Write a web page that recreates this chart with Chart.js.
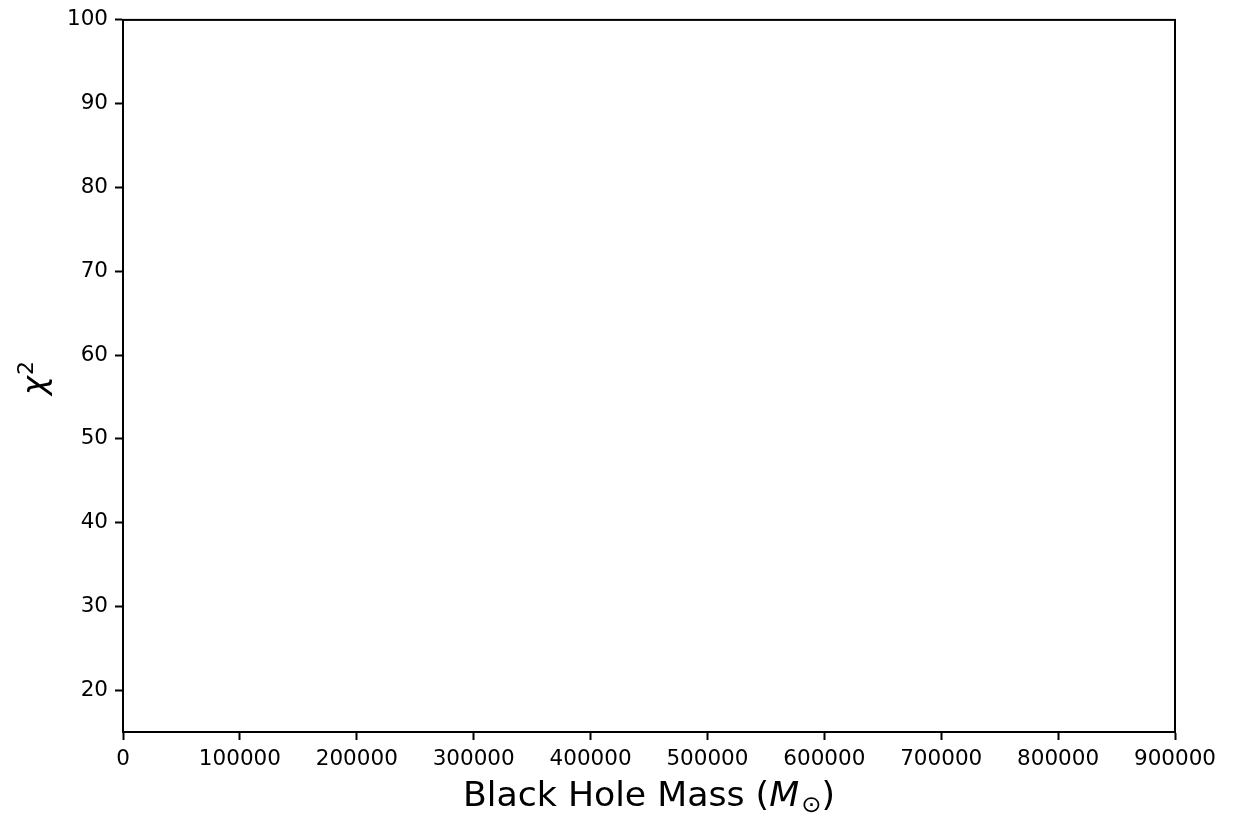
<!DOCTYPE html>
<html>
<head>
<meta charset="utf-8">
<script src="https://cdn.jsdelivr.net/npm/chart.js@4.4.1/dist/chart.umd.min.js"></script>
<style>
html,body{margin:0;padding:0;background:#fff;}
canvas{display:block;}
</style>
</head>
<body>
<canvas id="c" width="1238" height="816"></canvas>
<script>
// Data (the reference plot contains no plotted marks)
const blackHoleMass = [];
const chiSquared = [];
const xTickValues = [0, 100000, 200000, 300000, 400000, 500000, 600000, 700000, 800000, 900000];
const yTickValues = [20, 30, 40, 50, 60, 70, 80, 90, 100];
const xRange = [0, 900000];
const yRange = [15, 100];
const xTitleParts = ["Black Hole Mass (", "M", "\u2299", ")"];
const yTitleParts = ["\u03C7", "2"];

const FONT = "'DejaVu Sans', sans-serif";

const titlesPlugin = {
  id: 'titles',
  afterDraw(chart) {
    const ctx = chart.ctx;
    const a = chart.chartArea;
    ctx.save();
    // spines
    ctx.strokeStyle = '#000';
    ctx.lineWidth = 2;
    ctx.strokeRect(a.left, a.top, a.right - a.left, a.bottom - a.top);

    // x title
    const fs = 33;
    const fN = fs + "px " + FONT;
    const fI = "italic " + fs + "px " + FONT;
    const fS = Math.round(fs * 0.7) + "px " + FONT;
    ctx.fillStyle = '#000';
    ctx.textBaseline = 'alphabetic';
    ctx.textAlign = 'left';
    ctx.font = fN; const w0 = ctx.measureText(xTitleParts[0]).width;
    ctx.font = fI; const w1 = ctx.measureText(xTitleParts[1]).width;
    ctx.font = fS; const w2 = ctx.measureText(xTitleParts[2]).width;
    ctx.font = fN; const w3 = ctx.measureText(xTitleParts[3]).width;
    const total = w0 + w1 + 2 + w2 + w3;
    const targetW = 372;
    const sx = targetW / total;
    ctx.save();
    ctx.translate((a.left + a.right) / 2 - targetW / 2, 806);
    ctx.scale(sx, 1);
    let x = 0;
    ctx.font = fN; ctx.fillText(xTitleParts[0], x, 0); x += w0;
    ctx.font = fI; ctx.fillText(xTitleParts[1], x, 0); x += w1 + 2;
    ctx.font = fS; ctx.fillText(xTitleParts[2], x, 6); x += w2;
    ctx.font = fN; ctx.fillText(xTitleParts[3], x, 0);
    ctx.restore();

    // y title (rotated)
    ctx.save();
    const cy = (a.top + a.bottom) / 2 + 2;
    ctx.translate(45, cy);
    ctx.rotate(-Math.PI / 2);
    const yfs = 32;
    const yfI = "italic " + yfs + "px " + FONT;
    const yfS = Math.round(yfs * 0.7) + "px " + FONT;
    ctx.font = yfI; const v0 = ctx.measureText(yTitleParts[0]).width;
    ctx.font = yfS; const v1 = ctx.measureText(yTitleParts[1]).width;
    let tx = -(v0 + 1 + v1) / 2;
    ctx.font = yfI; ctx.fillText(yTitleParts[0], tx, 0); tx += v0 + 1;
    ctx.font = yfS; ctx.fillText(yTitleParts[1], tx, -12);
    ctx.restore();
    ctx.restore();
  }
};

new Chart(document.getElementById('c'), {
  type: 'scatter',
  data: {
    datasets: [{
      label: 'chi2',
      data: blackHoleMass.map((m, i) => ({ x: m, y: chiSquared[i] })),
      borderColor: '#1f77b4',
      backgroundColor: '#1f77b4'
    }]
  },
  options: {
    responsive: false,
    devicePixelRatio: 1,
    animation: false,
    layout: { padding: { top: 19, right: 63, left: 0, bottom: 0 } },
    plugins: { legend: { display: false }, tooltip: { enabled: false } },
    scales: {
      x: {
        type: 'linear',
        min: xRange[0], max: xRange[1],
        afterBuildTicks(s) { s.ticks = xTickValues.map(v => ({ value: v })); },
        afterFit(s) { s.height = 84; },
        grid: { display: true, drawOnChartArea: false, drawTicks: true, tickLength: 8, tickColor: '#000', tickWidth: 2 },
        border: { display: true, color: '#000', width: 2 },
        ticks: { color: '#000', font: { family: FONT, size: 21.5 }, padding: 7, maxRotation: 0, autoSkip: false,
                 callback: v => String(v) }
      },
      y: {
        type: 'linear',
        min: yRange[0], max: yRange[1],
        afterBuildTicks(s) { s.ticks = yTickValues.map(v => ({ value: v })); },
        afterFit(s) { s.width = 123; },
        grid: { display: true, drawOnChartArea: false, drawTicks: true, tickLength: 8, tickColor: '#000', tickWidth: 2 },
        border: { display: true, color: '#000', width: 2 },
        ticks: { color: '#000', font: { family: FONT, size: 21.5 }, padding: 7, autoSkip: false,
                 callback: v => String(v) }
      }
    }
  },
  plugins: [titlesPlugin]
});
</script>
</body>
</html>
